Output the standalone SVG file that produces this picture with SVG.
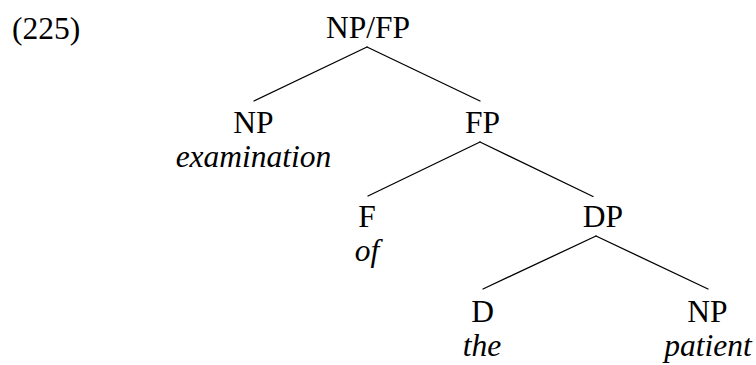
<svg xmlns="http://www.w3.org/2000/svg" width="756" height="365" viewBox="0 0 756 365">
<style>
text{font-family:"Liberation Serif","Times New Roman",serif;font-size:31.5px;fill:#000;text-anchor:middle}
.it{font-style:italic}
.edges line{stroke:#000;stroke-width:1.3;stroke-linecap:round}
</style>
<rect width="756" height="365" fill="#fff"/>
<text x="12" y="39" style="text-anchor:start">(225)</text>
<g id="n-root"><text x="368" y="38">NP/FP</text></g>
<g id="n-np1"><text x="253.5" y="132.5">NP</text><text class="it" x="253.5" y="167">examination</text></g>
<g id="n-fp"><text x="482.5" y="132.5">FP</text></g>
<g id="n-f"><text x="367" y="227">F</text><text class="it" x="367" y="261">of</text></g>
<g id="n-dp"><text x="603" y="227">DP</text></g>
<g id="n-d"><text x="482.5" y="321.5">D</text><text class="it" x="482" y="356">the</text></g>
<g id="n-np2"><text x="707.5" y="321.5">NP</text><text class="it" x="708" y="356">patient</text></g>
<g class="edges">
<line x1="367" y1="47" x2="254" y2="101"/>
<line x1="367" y1="47" x2="480" y2="101"/>
<line x1="480" y1="142" x2="368" y2="196"/>
<line x1="480" y1="142" x2="593" y2="196.5"/>
<line x1="596" y1="236" x2="483" y2="289"/>
<line x1="596" y1="236" x2="708" y2="289"/>
</g>
</svg>
